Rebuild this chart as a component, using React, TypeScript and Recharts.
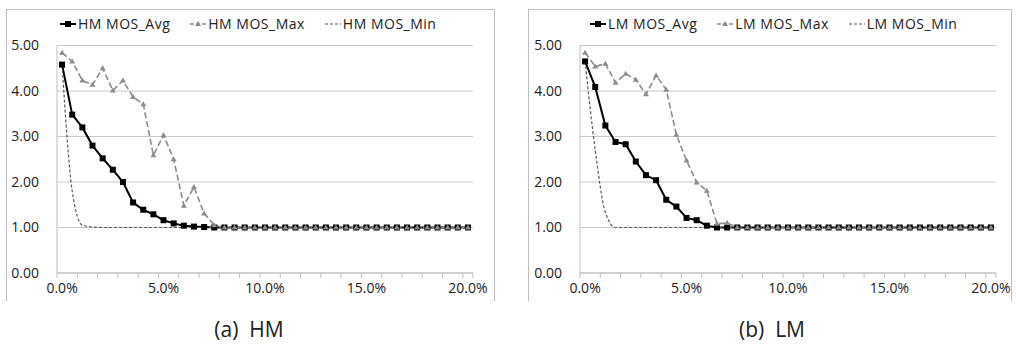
import React from 'react';
import { LineChart, Line, XAxis, YAxis, CartesianGrid } from 'recharts';

// packet loss rate (%) for each measured point
const lossRate = [
  0, 0.5, 1, 1.5, 2, 2.5, 3, 3.5, 4, 4.5, 5, 5.5, 6, 6.5, 7, 7.5, 8, 8.5, 9, 9.5, 10,
  10.5, 11, 11.5, 12, 12.5, 13, 13.5, 14, 14.5, 15, 15.5, 16, 16.5, 17, 17.5, 18, 18.5, 19, 19.5, 20,
];

const hmAvg = [
  4.58, 3.48, 3.2, 2.8, 2.52, 2.27, 2.0, 1.55, 1.39, 1.29, 1.16, 1.09, 1.04, 1.02, 1.01, 1.0, 1.0, 1.0, 1.0, 1.0, 1.0,
  1.0, 1.0, 1.0, 1.0, 1.0, 1.0, 1.0, 1.0, 1.0, 1.0, 1.0, 1.0, 1.0, 1.0, 1.0, 1.0, 1.0, 1.0, 1.0, 1.0,
];
const hmMax = [
  4.84, 4.65, 4.23, 4.14, 4.5, 4.01, 4.23, 3.87, 3.71, 2.59, 3.03, 2.5, 1.48, 1.89, 1.31, 1.05, 1.0, 1.0, 1.0, 1.0, 1.0,
  1.0, 1.0, 1.0, 1.0, 1.0, 1.0, 1.0, 1.0, 1.0, 1.0, 1.0, 1.0, 1.0, 1.0, 1.0, 1.0, 1.0, 1.0, 1.0, 1.0,
];
const hmMin = [
  4.58, 1.8, 1.05, 1.01, 1.0, 1.0, 1.0, 1.0, 1.0, 1.0, 1.0, 1.0, 1.0, 1.0, 1.0, 1.0, 1.0, 1.0, 1.0, 1.0, 1.0,
  1.0, 1.0, 1.0, 1.0, 1.0, 1.0, 1.0, 1.0, 1.0, 1.0, 1.0, 1.0, 1.0, 1.0, 1.0, 1.0, 1.0, 1.0, 1.0, 1.0,
];

const lmAvg = [
  4.65, 4.09, 3.24, 2.88, 2.83, 2.45, 2.15, 2.04, 1.61, 1.46, 1.21, 1.16, 1.04, 1.0, 1.0, 1.0, 1.0, 1.0, 1.0, 1.0, 1.0,
  1.0, 1.0, 1.0, 1.0, 1.0, 1.0, 1.0, 1.0, 1.0, 1.0, 1.0, 1.0, 1.0, 1.0, 1.0, 1.0, 1.0, 1.0, 1.0, 1.0,
];
const lmMax = [
  4.84, 4.54, 4.6, 4.18, 4.38, 4.25, 3.93, 4.34, 4.03, 3.04, 2.47, 1.99, 1.81, 1.08, 1.1, 1.0, 1.0, 1.0, 1.0, 1.0, 1.0,
  1.0, 1.0, 1.0, 1.0, 1.0, 1.0, 1.0, 1.0, 1.0, 1.0, 1.0, 1.0, 1.0, 1.0, 1.0, 1.0, 1.0, 1.0, 1.0, 1.0,
];
const lmMin = [
  4.65, 2.7, 1.33, 1.0, 1.0, 1.0, 1.0, 1.0, 1.0, 1.0, 1.0, 1.0, 1.0, 1.0, 1.0, 1.0, 1.0, 1.0, 1.0, 1.0, 1.0,
  1.0, 1.0, 1.0, 1.0, 1.0, 1.0, 1.0, 1.0, 1.0, 1.0, 1.0, 1.0, 1.0, 1.0, 1.0, 1.0, 1.0, 1.0, 1.0, 1.0,
];

const yTicks = [0, 1, 2, 3, 4, 5];
const xLabels = [0, 5, 10, 15, 20];
// category boundaries where the small tick marks sit
const xMarks = [
  -0.25, 0.75, 1.75, 2.75, 3.75, 4.75, 5.75, 6.75, 7.75, 8.75, 9.75,
  10.75, 11.75, 12.75, 13.75, 14.75, 15.75, 16.75, 17.75, 18.75, 19.75, 20.25,
];

const FONT = '"Open Sans", "Noto Sans", sans-serif';
const AXIS = '#bfbfbf';

const hmData = lossRate.map((x, i) => ({ x, avg: hmAvg[i], max: hmMax[i], min: hmMin[i] }));
const lmData = lossRate.map((x, i) => ({ x, avg: lmAvg[i], max: lmMax[i], min: lmMin[i] }));

const SquareDot = (p: any) => {
  if (p.cx == null || p.cy == null) return null;
  return <rect x={p.cx - 3} y={p.cy - 3} width={6} height={6} fill="#000" />;
};

const TriDot = (p: any) => {
  if (p.cx == null || p.cy == null) return null;
  const { cx, cy } = p;
  return <path d={`M${cx},${cy - 3} L${cx + 3},${cy + 2} L${cx - 3},${cy + 2} Z`} fill="#8c8c8c" />;
};

const XTick = (props: any) => {
  const { x, y, payload } = props;
  const v = payload.value;
  if (xLabels.includes(v)) {
    return (
      <text x={x} y={y} dy="0.71em" textAnchor="middle" fill="#222" fontSize={14} fontFamily={FONT}>
        {v.toFixed(1)}%
      </text>
    );
  }
  return <line x1={x} x2={x} y1={y - 10} y2={y - 5} stroke={AXIS} />;
};

function LegendRow({ prefix, left }: { prefix: string; left: number }) {
  const items = [
    { name: `${prefix} MOS_Avg`, kind: 'avg' },
    { name: `${prefix} MOS_Max`, kind: 'max' },
    { name: `${prefix} MOS_Min`, kind: 'min' },
  ];
  return (
    <div style={{ position: 'absolute', left, top: 14, display: 'flex', gap: 20, fontSize: 14, fontFamily: FONT, color: '#222', letterSpacing: 0.5 }}>
      {items.map((it) => (
        <div key={it.name} style={{ display: 'flex', alignItems: 'center' }}>
          <svg width={16} height={10} style={{ marginRight: 2 }}>
            {it.kind === 'avg' && (
              <>
                <line x1={0} x2={16} y1={5} y2={5} stroke="#000" strokeWidth={2} />
                <rect x={5} y={2} width={6} height={6} fill="#000" />
              </>
            )}
            {it.kind === 'max' && (
              <>
                <line x1={0} x2={16} y1={5} y2={5} stroke="#8c8c8c" strokeWidth={1.5} strokeDasharray="4 2" />
                <path d="M8,2 L11,7 L5,7 Z" fill="#8c8c8c" />
              </>
            )}
            {it.kind === 'min' && (
              <line x1={0} x2={16} y1={5} y2={5} stroke="#595959" strokeWidth={1.2} strokeDasharray="3 2" />
            )}
          </svg>
          <span>{it.name}</span>
        </div>
      ))}
    </div>
  );
}

function Panel({ data, width, yAxisWidth, right }: { data: any[]; width: number; yAxisWidth: number; right: number }) {
  return (
    <LineChart width={width} height={300} data={data} margin={{ top: 45.5, right, bottom: 0, left: 0 }}>
      <CartesianGrid vertical={false} stroke="#c8c8c8" />
      <XAxis
        dataKey="x"
        type="number"
        domain={[-0.25, 20.25]}
        ticks={[...xMarks, ...xLabels]}
        interval={0}
        tick={<XTick />}
        tickLine={false}
        tickSize={0}
        tickMargin={10}
        height={27}
        stroke={AXIS}
        allowDataOverflow
      />
      <YAxis
        type="number"
        domain={[0, 5]}
        ticks={yTicks}
        width={yAxisWidth}
        tickFormatter={(v: number) => v.toFixed(2)}
        tickLine={false}
        tickSize={0}
        tickMargin={18}
        stroke={AXIS}
        tick={{ fill: '#222', fontSize: 14, fontFamily: FONT }}
      />
      <Line dataKey="avg" stroke="#000" strokeWidth={2} dot={<SquareDot />} isAnimationActive={false} />
      <Line dataKey="max" stroke="#8c8c8c" strokeWidth={1.6} strokeDasharray="6 3" dot={<TriDot />} isAnimationActive={false} />
      <Line type="monotone" dataKey="min" stroke="#595959" strokeWidth={1.2} strokeDasharray="3 2" dot={false} isAnimationActive={false} />
    </LineChart>
  );
}

export default function App() {
  const box = { position: 'absolute' as const, top: 9, height: 291, borderLeft: `1px solid ${AXIS}`, borderTop: `1px solid ${AXIS}`, borderRight: `1px solid ${AXIS}` };
  const caption = {
    position: 'absolute' as const,
    top: 315,
    fontSize: 21,
    lineHeight: '29px',
    fontFamily: FONT,
    color: '#222',
    whiteSpace: 'pre' as const,
    transform: 'translateX(-50%)',
  };
  return (
    <div style={{ position: 'absolute', left: 0, top: 0, width: 1016, height: 346, background: '#fff', overflow: 'hidden' }}>
      <div style={{ ...box, left: 6, width: 487 }} />
      <div style={{ ...box, left: 528, width: 482 }} />
      <div style={{ position: 'absolute', left: 0, top: 0 }}>
        <Panel data={hmData} width={494} yAxisWidth={57} right={21} />
      </div>
      <div style={{ position: 'absolute', left: 528, top: 0 }}>
        <Panel data={lmData} width={484} yAxisWidth={52} right={16} />
      </div>
      <LegendRow prefix="HM" left={60} />
      <LegendRow prefix="LM" left={590} />
      <div style={{ ...caption, left: 249 }}>(a)  HM</div>
      <div style={{ ...caption, left: 772 }}>(b)  LM</div>
    </div>
  );
}
